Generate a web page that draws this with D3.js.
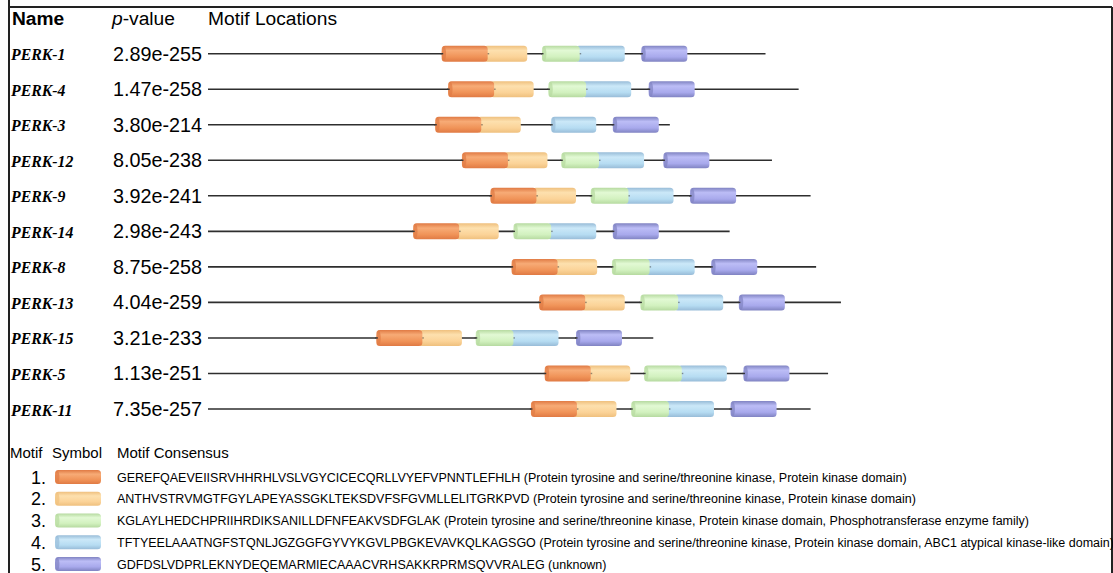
<!DOCTYPE html>
<html>
<head>
<meta charset="utf-8">
<script src="https://cdn.jsdelivr.net/npm/d3@7"></script>
<style>
  html, body { margin: 0; padding: 0; background: #fff; }
  svg { display: block; }
</style>
</head>
<body>
<svg id="chart" width="1113" height="573"></svg>
<script>
// Sequence names, MEME p-values and sequence lengths (aa)
const names = ["PERK-1", "PERK-4", "PERK-3", "PERK-12", "PERK-9", "PERK-14",
               "PERK-8", "PERK-13", "PERK-15", "PERK-5", "PERK-11"];
const pValues = ["2.89e-255", "1.47e-258", "3.80e-214", "8.05e-238", "3.92e-241", "2.98e-243",
                 "8.75e-258", "4.04e-259", "3.21e-233", "1.13e-251", "7.35e-257"];
const seqLengths = [606, 642, 502, 613, 655, 567, 661, 688, 484, 674, 655];

// Motif site start positions (aa) per sequence; null = motif not found
const motif1Starts = [254, 261, 247, 276, 307, 223, 330, 360, 183, 366, 351];
const motif2Starts = [304, 311, 297, 326, 357, 273, 380, 410, 233, 416, 401];
const motif3Starts = [363, 370, null, 384, 416, 332, 439, 470, 291, 474, 460];
const motif4Starts = [404, 411, 373, 425, 457, 373, 480, 511, 332, 515, 501];
const motif5Starts = [471, 479, 440, 495, 524, 440, 547, 577, 400, 582, 568];
const motifWidths = [50, 43, 41, 49, 50];

// Legend
const motifNumbers = ["1.", "2.", "3.", "4.", "5."];
const motifConsensus = [
  "GEREFQAEVEIISRVHHRHLVSLVGYCICECQRLLVYEFVPNNTLEFHLH (Protein tyrosine and serine/threonine kinase, Protein kinase domain)",
  "ANTHVSTRVMGTFGYLAPEYASSGKLTEKSDVFSFGVMLLELITGRKPVD (Protein tyrosine and serine/threonine kinase, Protein kinase domain)",
  "KGLAYLHEDCHPRIIHRDIKSANILLDFNFEAKVSDFGLAK (Protein tyrosine and serine/threonine kinase, Protein kinase domain, Phosphotransferase enzyme family)",
  "TFTYEELAAATNGFSTQNLJGZGGFGYVYKGVLPBGKEVAVKQLKAGSGO (Protein tyrosine and serine/threonine kinase, Protein kinase domain, ABC1 atypical kinase-like domain)",
  "GDFDSLVDPRLEKNYDEQEMARMIECAAACVRHSAKKRPRMSQVVRALEG (unknown)"
];

// Cylinder palette: [edge, highlight, body]
const motifColors = [
  ["#e07a44", "#f7ab76", "#f09358"],
  ["#efc07e", "#fde0ae", "#fbd398"],
  ["#b6daa0", "#e2f9d4", "#d2f1bf"],
  ["#98bcd8", "#cbe8f8", "#b6dcf2"],
  ["#8083c2", "#bcbdf6", "#a8a9ec"]
];

const svg = d3.select("#chart");
const sans = "'Liberation Sans', Arial, sans-serif";
const serif = "'Liberation Serif', 'Times New Roman', serif";

// Gradients for the motif cylinders
const defs = svg.append("defs");
motifColors.forEach((c, i) => {
  const g = defs.append("linearGradient")
    .attr("id", "mg" + i).attr("x1", 0).attr("y1", 0).attr("x2", 0).attr("y2", 1);
  g.append("stop").attr("offset", "0%").attr("stop-color", c[0]);
  g.append("stop").attr("offset", "30%").attr("stop-color", c[1]);
  g.append("stop").attr("offset", "70%").attr("stop-color", c[2]);
  g.append("stop").attr("offset", "100%").attr("stop-color", c[0]);
});

// Frame
const frame = svg.append("g").attr("stroke", "#222").attr("stroke-width", 2).attr("fill", "none");
frame.append("line").attr("x1", 9).attr("y1", 0).attr("x2", 9).attr("y2", 573);
frame.append("line").attr("x1", 9).attr("y1", 7).attr("x2", 1112).attr("y2", 7);
frame.append("line").attr("x1", 1112).attr("y1", 7).attr("x2", 1112).attr("y2", 573);

// Scales
const x = d3.scaleLinear().domain([0, 1000]).range([208, 1128]);
const y = d3.scalePoint().domain(names).range([53.7, 409]);

// Header
svg.append("text").attr("x", 12).attr("y", 25)
  .attr("font-family", sans).attr("font-size", 19.2).attr("font-weight", "bold").text("Name");
const ph = svg.append("text").attr("x", 112).attr("y", 25)
  .attr("font-family", sans).attr("font-size", 19.2);
ph.append("tspan").attr("font-style", "italic").text("p");
ph.append("tspan").text("-value");
svg.append("text").attr("x", 208).attr("y", 25)
  .attr("font-family", sans).attr("font-size", 19.2).text("Motif Locations");

// Rows
const motifStarts = [motif1Starts, motif2Starts, motif3Starts, motif4Starts, motif5Starts];
const rows = svg.append("g").selectAll("g").data(names).join("g")
  .attr("transform", d => `translate(0,${y(d)})`);

rows.append("text").attr("x", 11).attr("y", 6.5)
  .attr("font-family", serif).attr("font-size", 15.8)
  .attr("font-weight", "bold").attr("font-style", "italic")
  .text(d => d);

rows.append("text").attr("x", 202).attr("y", 7)
  .attr("text-anchor", "end")
  .attr("font-family", sans).attr("font-size", 19.8)
  .text((d, i) => pValues[i]);

rows.append("line")
  .attr("x1", x(0)).attr("x2", (d, i) => x(seqLengths[i]))
  .attr("y1", 0).attr("y2", 0)
  .attr("stroke", "#2e2e2e").attr("stroke-width", 1.6);

const cylH = 16;
// One motif cylinder; `under` extends it left beneath an abutting neighbour
function drawCylinder(g, x0, x1, h, m, under) {
  const left = under ? x0 - 4 : x0;
  g.append("rect")
    .attr("x", left).attr("y", -h / 2).attr("width", x1 - left).attr("height", h)
    .attr("rx", 3.5).attr("ry", 3.5)
    .attr("fill", `url(#mg${m})`);
  if (!under) {
    g.append("ellipse")
      .attr("cx", x0 + 2.2).attr("cy", 0).attr("rx", 2.2).attr("ry", h / 2 - 0.6)
      .attr("fill", motifColors[m][0]).attr("opacity", 0.7);
  }
}

rows.each(function (d, i) {
  const g = d3.select(this);
  // later motifs first so an abutting earlier site sits on top
  for (let m = motifStarts.length - 1; m >= 0; m--) {
    const s = motifStarts[m][i];
    if (s === null) continue;
    const prev = m > 0 ? motifStarts[m - 1][i] : null;
    const abuts = prev !== null && prev + motifWidths[m - 1] >= s - 1;
    drawCylinder(g, x(s), x(s + motifWidths[m]), cylH, m, abuts);
    g.append("line").attr("x1", x(s) - 1).attr("x2", x(s) + 1.5)
      .attr("y1", 0).attr("y2", 0).attr("stroke", "#333").attr("stroke-width", 1.4)
      .attr("opacity", abuts ? 0.5 : 1);
  }
});

// Legend
const legendTop = 458;
svg.append("text").attr("x", 10).attr("y", legendTop)
  .attr("font-family", sans).attr("font-size", 15).text("Motif");
svg.append("text").attr("x", 52).attr("y", legendTop)
  .attr("font-family", sans).attr("font-size", 15).text("Symbol");
svg.append("text").attr("x", 117).attr("y", legendTop)
  .attr("font-family", sans).attr("font-size", 15).text("Motif Consensus");

const ly = d3.scalePoint().domain(motifNumbers).range([477, 564]);
const leg = svg.append("g").selectAll("g").data(motifNumbers).join("g")
  .attr("transform", d => `translate(0,${ly(d)})`);
leg.append("text").attr("x", 46).attr("y", 6.5).attr("text-anchor", "end")
  .attr("font-family", sans).attr("font-size", 18).text(d => d);
leg.each(function (d, i) {
  drawCylinder(d3.select(this), 55, 101, 14, i, false);
});
leg.append("text").attr("x", 117).attr("y", 4.5)
  .attr("font-family", sans).attr("font-size", 12.5)
  .text((d, i) => motifConsensus[i]);
</script>
</body>
</html>
